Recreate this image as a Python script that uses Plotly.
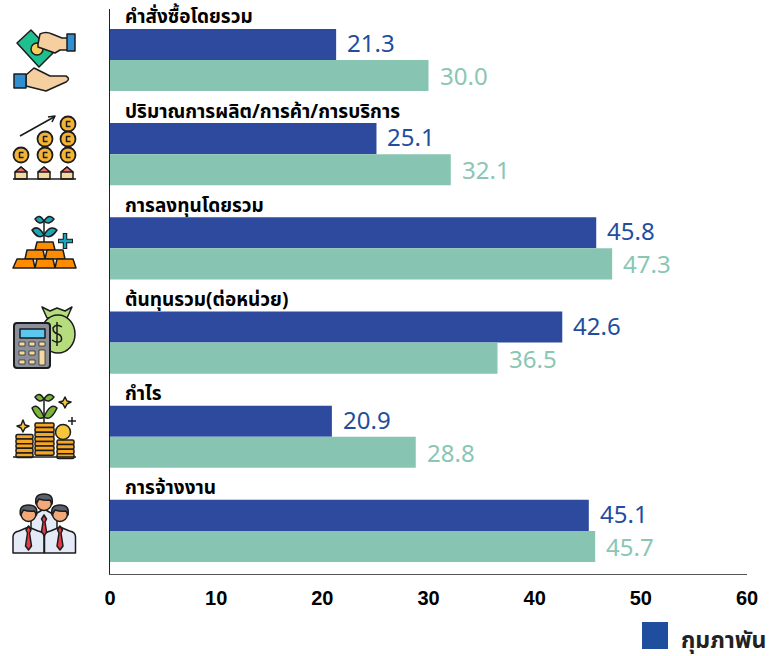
import base64
import plotly.graph_objects as go

categories = ["คำสั่งซื้อโดยรวม", "ปริมาณการผลิต/การค้า/การบริการ", "การลงทุนโดยรวม",
              "ต้นทุนรวม(ต่อหน่วย)", "กำไร", "การจ้างงาน"]
series_a = [21.3, 25.1, 45.8, 42.6, 20.9, 45.1]
series_b = [30.0, 32.1, 47.3, 36.5, 28.8, 45.7]
legend_label = "กุมภาพัน"
x_ticks = [0, 10, 20, 30, 40, 50, 60]

W, H = 769, 656
L, R, T, B = 110, 22, 9, 82
THAI = "Noto Sans Thai, Noto Sans, Open Sans, sans-serif"
BLUE, GREEN = "#2E4A9F", "#88C4B2"
LBLUE, LGREEN = "#1F4E9E", "#8AC6B4"


def coin(cx, cy, r=7.5):
    return (f'<circle cx="{cx}" cy="{cy}" r="{r}" fill="#F5B335" stroke-width="1.8"/>'
            f'<path d="M{cx+2.5} {cy-2.5}h-4v5h4" fill="none" stroke-width="1.5"/>')


def house(cx):
    return (f'<path d="M{cx-6} 179v-7l6-5 6 5v7z" fill="#F7D79E"/>'
            f'<path d="M{cx-6} 172l6-5 6 5z" fill="#EE6E73"/>')


def stack(x, w, y0, n):
    return "".join(f'<rect x="{x}" y="{y0+i*4.6:.1f}" width="{w}" height="4.6" rx="1.5" fill="#F6A623"/>'
                   for i in range(n))


def leaf(x1, y1, x2, y2, c):
    return (f'<path d="M{x1} {y1}Q{(x1+x2)/2} {min(y1,y2)-6} {x2} {y2}Q{(x1+x2)/2} {max(y1,y2)+5} {x1} {y1}z" '
            f'fill="{c}"/>')


def person(cx, cy, body_w, bottom):
    hw = body_w / 2
    return (f'<path d="M{cx-hw} {bottom}v-16q0-5 6-6l{hw-6} -4 {hw-6} 4q6 1 6 6v16z" fill="#E4EAF6"/>'
            f'<path d="M{cx} {cy+12}l-2.5 4 1.5 3-2 13 3 4 3-4-2-13 1.5-3z" fill="#E63946"/>'
            f'<circle cx="{cx}" cy="{cy}" r="7.5" fill="#F3A877"/>'
            f'<path d="M{cx-8} {cy+1}q-2-10 8-10 10 0 8 10l-2-4q-5 1-11-1z" fill="#5A5F6B"/>')


icons = f'''
<g stroke="#1c1c1c" stroke-width="1.5" stroke-linejoin="round">
<path d="M31 30L17 43 39 67 53 53z" fill="#1FC08F"/>
<circle cx="37" cy="49" r="6" fill="#F8CF5F"/>
<path d="M38 44L40 34Q46 31 52 34L62 38H68V50H60L55 53 38 47z" fill="#F5CFA0"/>
<rect x="67" y="34" width="8" height="17" fill="#2F8FD0"/>
<path d="M26 75L34 68 42 72 50 76H66Q71 79 66 82L46 91 26 86z" fill="#F5CFA0"/>
<rect x="14" y="74" width="12" height="14" fill="#2F8FD0"/>
<path d="M20 136L54 117" fill="none" stroke-width="1.6"/>
<path d="M48 117L55 116 52 122" fill="none" stroke-width="1.6"/>
{coin(21,155)}{coin(45,139)}{coin(45,155)}{coin(68,124)}{coin(68,139)}{coin(68,155)}
{house(21)}{house(44)}{house(67)}
<path d="M13 179H76" fill="none" stroke-width="1.6"/>
<path d="M44 243V222" fill="none"/>
{leaf(44,221,35,219,"#1AA5B8")}{leaf(44,221,54,219,"#1AA5B8")}
{leaf(44,235,32,230,"#1AA5B8")}{leaf(44,235,57,230,"#1AA5B8")}
<path d="M37 242H53L55 250H35z" fill="#FF8C00"/>
<path d="M27 250H43L45 259H25zM47 250H63L65 259H45z" fill="#FF8C00"/>
<path d="M17 259H33L35 268H13zM37 259H53L55 268H35zM57 259H73L76 268H55z" fill="#FF8C00"/>
<path d="M65 233V249M58 241H73" fill="none" stroke-width="4.5"/>
<path d="M65 234V248M59 241H72" fill="none" stroke="#1AA5B8" stroke-width="2.4"/>
<path d="M42 307L50 311 57 308 65 311 72 307 67 318H47z" fill="#B5DC7D"/>
<ellipse cx="58" cy="334" rx="17" ry="19" fill="#B5DC7D"/>
<path d="M62 327Q56 323 53 328 53 333 58 334 63 336 61 341 57 344 52 340M57 322V346" fill="none"/>
<rect x="14" y="323" width="36" height="45" rx="3" fill="#8A8F99" stroke-width="2"/>
<rect x="20" y="329" width="25" height="9" fill="#5BC8EF"/>
<g fill="#F5D9A0" stroke-width="0.7">
<rect x="19" y="342" width="6" height="4"/><rect x="29" y="342" width="6" height="4"/><rect x="39" y="342" width="6" height="4"/>
<rect x="19" y="351" width="6" height="4"/><rect x="29" y="351" width="6" height="4"/><rect x="39" y="350" width="6" height="15"/>
<rect x="19" y="360" width="6" height="4"/><rect x="29" y="360" width="6" height="4"/></g>
{stack(16,17,434.5,5)}{stack(35,19,423,7)}{stack(57,17,440,4)}
<circle cx="63" cy="432" r="7.5" fill="#F8C63D"/>
<path d="M13 457H76" fill="none" stroke-width="1.6"/>
<path d="M44 423V398" fill="none"/>
{leaf(44,399,35,397,"#7BB33B")}{leaf(44,399,54,397,"#7BB33B")}
{leaf(44,417,32,408,"#7BB33B")}{leaf(44,417,57,408,"#7BB33B")}
<path d="M23 420L25 425 29 426 25 428 23 432 21 428 17 426 21 425zM65 397L67 401 71 402 67 404 65 408 63 404 59 402 63 401z" fill="#F8C63D"/>
<path d="M72 417V425M68 421H76" fill="none"/>
{person(44,503,26,535)}{person(28.5,514,31,553)}{person(60,514,31,553)}
</g>'''
svg = f'<svg xmlns="http://www.w3.org/2000/svg" width="100" height="600" viewBox="0 0 100 600">{icons}</svg>'
uri = "data:image/svg+xml;base64," + base64.b64encode(svg.encode("utf-8")).decode()

fig = go.Figure()
fig.add_bar(y=categories, x=series_a, orientation="h", marker_color=BLUE, marker_line_width=0, name=legend_label)
fig.add_bar(y=categories, x=series_b, orientation="h", marker_color=GREEN, marker_line_width=0, showlegend=False)

annotations = [dict(x=0, y=c, xref="x", yref="y", text=f"<b>{c}</b>", showarrow=False, xanchor="left",
                    yanchor="middle", xshift=13, yshift=42,
                    font=dict(size=19, color="#000", family=THAI)) for c in categories]
for vals, col, ys in ((series_a, LBLUE, 15), (series_b, LGREEN, -18)):
    for c, v in zip(categories, vals):
        annotations.append(dict(x=v, y=c, xref="x", yref="y", text=f"{v:.1f}", showarrow=False, xanchor="left",
                                yanchor="middle", xshift=9, yshift=ys,
                                font=dict(size=24, color=col, family=THAI)))
annotations.append(dict(x=(679 - L) / (W - L - R), y=(H - B - 641) / (H - B - T), xref="paper", yref="paper",
                        text=f"<b>{legend_label}</b>", showarrow=False, xanchor="left", yanchor="middle",
                        font=dict(size=23, color="#222", family=THAI)))

fig.update_layout(
    width=W, height=H, autosize=False, showlegend=False,
    margin=dict(l=L, r=R, t=T, b=B, pad=0),
    paper_bgcolor="white", plot_bgcolor="white",
    barmode="group", bargap=0.34, bargroupgap=0,
    annotations=annotations,
    shapes=[dict(type="rect", xref="paper", yref="paper",
                 x0=(642 - L) / (W - L - R), x1=(668 - L) / (W - L - R),
                 y0=(H - B - 649) / (H - B - T), y1=(H - B - 622) / (H - B - T),
                 fillcolor="#1F4E9E", line_width=0)],
    images=[dict(source=uri, xref="paper", yref="paper", layer="above",
                 x=(0 - L) / (W - L - R), y=(H - B - 0) / (H - B - T),
                 sizex=100 / (W - L - R), sizey=600 / (H - B - T),
                 xanchor="left", yanchor="top", sizing="stretch")],
    xaxis=dict(range=[0, 60], tickvals=x_ticks, showgrid=False, zeroline=False, ticks="",
               showline=True, linecolor="#555", linewidth=1, layer="below traces", ticklabelstandoff=6,
               tickfont=dict(size=20, color="#000", family="Liberation Sans", weight="bold")),
    yaxis=dict(type="category", categoryorder="array", categoryarray=categories,
               range=[5.457, -0.541], showgrid=False, zeroline=False, showticklabels=False, ticks="",
               showline=True, linecolor="#222", linewidth=1, layer="below traces"),
)
fig.write_html("out.html", config={"displayModeBar": False},
               post_script="document.body.style.margin='0';document.body.style.overflow='hidden';")
